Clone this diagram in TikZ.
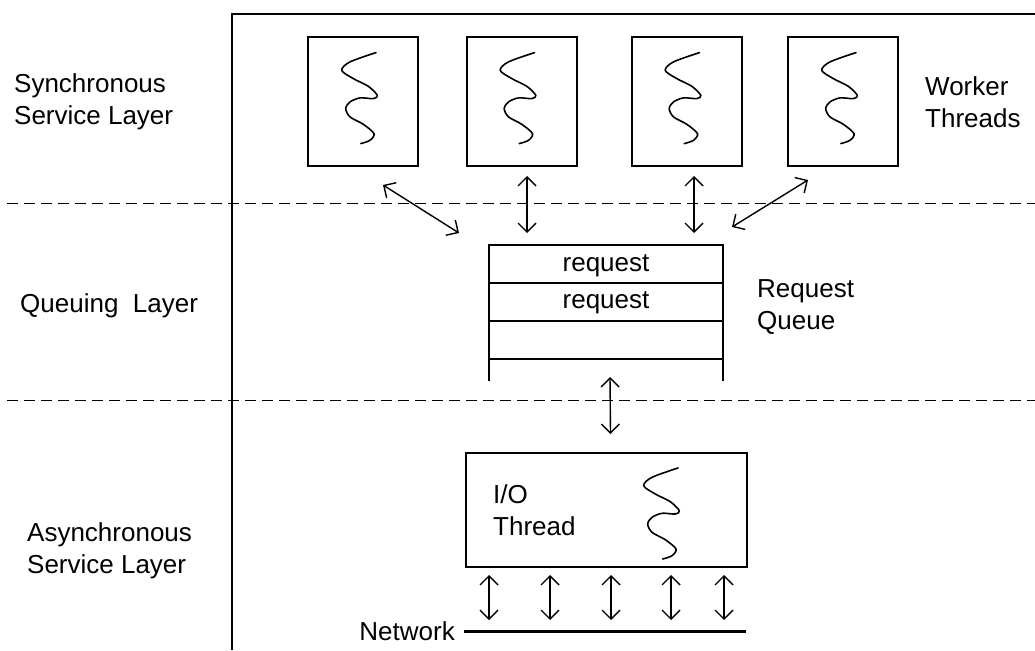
\documentclass[tikz,border=0pt]{standalone}
\usepackage{fontspec}
\setmainfont{Liberation Sans}
\usetikzlibrary{arrows.meta,calc}

\tikzset{
  frameline/.style={line width=2pt},
  layerline/.style={line width=1pt, dash pattern=on 11pt off 6pt},
  threadbox/.style={draw, line width=2pt, minimum width=110pt, minimum height=129pt, inner sep=0pt, outer sep=0pt},
  iobox/.style={draw, line width=2pt, minimum width=281pt, minimum height=114pt, inner sep=0pt, outer sep=0pt},
  queuebox/.style={minimum width=234pt, minimum height=136pt, inner sep=0pt, outer sep=0pt},
  queueline/.style={line width=2pt},
  biarrow/.style={line width=1.4pt, {Straight Barb[length=9pt,width=18pt]}-{Straight Barb[length=9pt,width=18pt]}},
  label/.style={font=\fontsize{26}{32}\selectfont, align=left, inner sep=0pt},
  squig/.pic={
    \draw[line width=1.6pt, line cap=round] plot[smooth, tension=0.5] coordinates {
      (0,0) (-26,9.3) (-34.3,17.7) (-22.7,26) (-7.7,33.7) (1.3,42.7) (-2.7,46)
      (-16,45.3) (-26,49.3) (-30.3,56) (-26,64.3) (-12.7,71.7) (-2,81) (-6,87.7) (-15.3,91)};
  }
}

\begin{document}
\begin{tikzpicture}[x=1pt, y=-1pt]
\useasboundingbox (0,0) rectangle (1035,650);

% outer frame and layer separators
\draw[frameline] (232,650) -- (232,14) -- (1035,14);
\draw[layerline] (7,203) -- (1035,203);
\draw[layerline] (7,400) -- (1035,400);

% layer names
\node[label, anchor=west] (lsync) at (14,102) {Synchronous\\Service Layer};
\node[label, anchor=west] (lqueue) at (20,306) {Queuing\ \ Layer};
\node[label, anchor=west] (lasync) at (27,551) {Asynchronous\\Service Layer};

% worker threads
\node[threadbox] (w1) at (363,101.5) {};
\node[threadbox] (w2) at (521.5,101.5) {};
\node[threadbox] (w3) at (686.5,101.5) {};
\node[threadbox] (w4) at (843,101.5) {};
\foreach \w in {w1,w2,w3,w4}
  \pic at ([shift={(68,15.6)}]\w.north west) {squig};
\node[label, anchor=west] (wlabel) at (925,102) {Worker\\Threads};

% request queue
\node[queuebox] (q) at (606,313) {};
\draw[queueline] (q.south west) -- (q.north west) -- (q.north east) -- (q.south east);
\foreach \dy in {38,76,114}
  \draw[queueline] ([shift={(0,\dy)}]q.north west) -- ([shift={(0,\dy)}]q.north east);
\node[label] (r1) at (606,266) {request};
\node[label] (r2) at (606,303) {request};
\node[label, anchor=west] (qlabel) at (757,307) {Request\\Queue};

% worker <-> queue
\draw[biarrow] ([shift={(-35,19)}]w1.south east) -- ([shift={(-30,-12)}]q.north west);
\draw[biarrow, shorten <=10pt, shorten >=12pt] ([xshift=5.5pt]w2.south) -- ([xshift=5.5pt]w2.south |- q.north);
\draw[biarrow, shorten <=10pt, shorten >=12pt] ([xshift=7.5pt]w3.south) -- ([xshift=7.5pt]w3.south |- q.north);
\draw[biarrow] ([shift={(20,14)}]w4.south west) -- ([shift={(9,-18)}]q.north east);

% I/O thread
\node[iobox] (io) at (606.5,510) {};
\node[label, anchor=west] (iolabel) at (493,510) {I/O\\Thread};
\pic at (678,468) {squig};
\draw[biarrow] ([shift={(4,-4)}]q.south) -- ([shift={(4,-19)}]io.north);

% network
\coordinate (netL) at (464,631);
\coordinate (netR) at (746,631);
\draw[line width=3pt] (netL) -- (netR);
\node[label, anchor=east] (netlabel) at ([xshift=-9pt]netL) {Network};
\foreach \d in {23,84,145,205,258}
  \draw[biarrow, shorten <=8pt, shorten >=11pt] ([xshift=\d pt]io.south west) -- ([xshift=\d pt]io.south west |- netL);
\end{tikzpicture}
\end{document}
